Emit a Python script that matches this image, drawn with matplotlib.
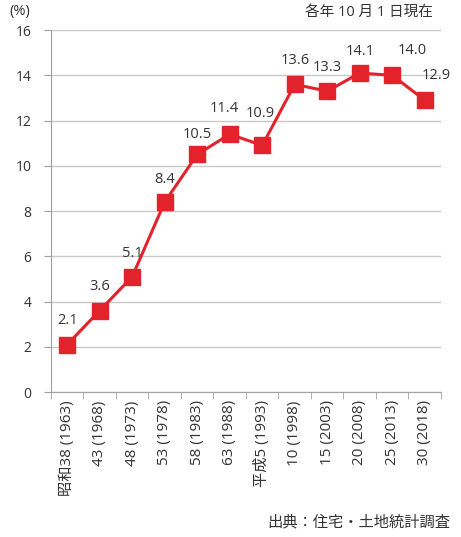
import matplotlib.pyplot as plt

plt.rcParams['font.family'] = ['Open Sans', 'Noto Sans CJK JP', 'DejaVu Sans']

# data
categories = ['昭和38 (1963)', '43 (1968)', '48 (1973)', '53 (1978)', '58 (1983)',
              '63 (1988)', '平成5 (1993)', '10 (1998)', '15 (2003)', '20 (2008)',
              '25 (2013)', '30 (2018)']
rates = [2.1, 3.6, 5.1, 8.4, 10.5, 11.4, 10.9, 13.6, 13.3, 14.1, 14.0, 12.9]
y_ticks = [0, 2, 4, 6, 8, 10, 12, 14, 16]

# label offsets in pixels (dx, dy up)
offsets = [(0, 24), (0, 24), (0, 23), (0, 22), (0, 20), (-6, 26),
           (-2, 32), (0, 24), (0, 24), (0, 22), (20, 25), (11, 25)]

red = '#e3232b'
txt = '#333333'

fig = plt.figure(figsize=(4.61, 5.37), dpi=100)
ax = fig.add_axes([0.1106, 0.270, 0.846, 0.674])

xs = range(len(rates))
ax.plot(xs, rates, color=red, lw=2.2, marker='s', markersize=11, zorder=3)

for i, v in enumerate(rates):
    dx, dy = offsets[i]
    ax.annotate(f'{v:.1f}', (i, v), xytext=(dx * 0.72, dy * 0.72),
                textcoords='offset points', ha='center', va='center',
                fontsize=10.5, color=txt)

ax.set_xlim(-0.5, len(rates) - 0.5)
ax.set_ylim(0, 16)
ax.set_yticks(y_ticks)
ax.set_yticklabels([str(t) for t in y_ticks], fontsize=10, color=txt)
ax.grid(axis='y', color='#c8c8c8', lw=1)
ax.set_axisbelow(True)

ax.set_xticks(list(xs))
ax.set_xticklabels(categories, rotation=90, fontsize=11, color=txt, va='top')
ax.tick_params(axis='x', length=0, pad=6)
ax.set_xticks([i - 0.5 for i in range(len(rates) + 1)], minor=True)
ax.tick_params(axis='x', which='minor', length=5, color='#a0a0a0')
ax.tick_params(axis='y', length=5, color='#a0a0a0', pad=9)

for s in ['top', 'right']:
    ax.spines[s].set_visible(False)
for s in ['left', 'bottom']:
    ax.spines[s].set_color('#a0a0a0')

fig.text(9 / 461, 1 - 12 / 537, '(%)', fontsize=10.5, va='center', color=txt)
fig.text(433 / 461, 1 - 12 / 537, '各年 10 月 1 日現在', fontsize=10.5, ha='right',
         va='center', color=txt)
fig.text(450 / 461, 1 - 523 / 537, '出典：住宅・土地統計調査', fontsize=11, ha='right',
         va='center', color=txt)

fig.savefig('out.png', dpi=100)
